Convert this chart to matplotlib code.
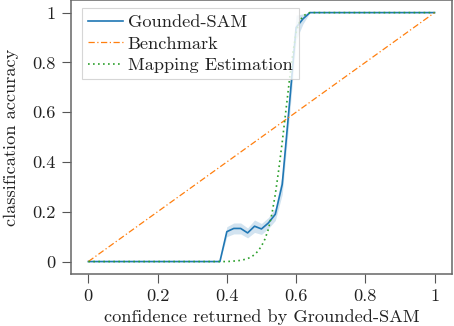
import numpy as np
import matplotlib
matplotlib.use("Agg")
import matplotlib.pyplot as plt

plt.rcParams['font.family'] = ['cmr10', 'DejaVu Serif']
plt.rcParams['mathtext.fontset'] = 'cm'
plt.rcParams['axes.formatter.use_mathtext'] = True

# Grounded-SAM measured accuracy vs confidence
gs_x = [0.00, 0.02, 0.04, 0.06, 0.08, 0.10, 0.12, 0.14, 0.16, 0.18, 0.20,
        0.22, 0.24, 0.26, 0.28, 0.30, 0.32, 0.34, 0.36, 0.38, 0.40, 0.42,
        0.44, 0.46, 0.48, 0.50, 0.52, 0.54, 0.56, 0.58, 0.60, 0.62, 0.64,
        0.66, 0.70, 0.80, 0.90, 1.00]
gs_y = [0, 0, 0, 0, 0, 0, 0, 0, 0, 0, 0,
        0, 0, 0, 0, 0, 0, 0, 0, 0, 0.12, 0.133,
        0.133, 0.115, 0.142, 0.131, 0.155, 0.19, 0.31, 0.62, 0.94, 0.975, 1.0,
        1.0, 1.0, 1.0, 1.0, 1.0]
gs_err = [0, 0, 0, 0, 0, 0, 0, 0, 0, 0, 0,
          0, 0, 0, 0, 0, 0, 0, 0, 0, 0.02, 0.022,
          0.022, 0.02, 0.025, 0.022, 0.022, 0.025, 0.04, 0.05, 0.05, 0.02, 0,
          0, 0, 0, 0, 0]

# Benchmark (identity)
bm_x = [0.0, 1.0]
bm_y = [0.0, 1.0]

# Mapping estimation
me_x = [0.00, 0.40, 0.41, 0.42, 0.43, 0.44, 0.45, 0.46, 0.47, 0.48, 0.49,
        0.50, 0.51, 0.52, 0.53, 0.54, 0.55, 0.56, 0.57, 0.58, 0.59, 0.60,
        0.61, 0.62, 0.63, 0.64, 1.00]
me_y = [0.0, 0.0, 0.001, 0.002, 0.003, 0.005, 0.008, 0.012, 0.018, 0.028, 0.042,
        0.062, 0.09, 0.13, 0.19, 0.27, 0.37, 0.48, 0.60, 0.72, 0.83, 0.92,
        0.965, 0.985, 0.995, 1.0, 1.0]

ticks = [0, 0.2, 0.4, 0.6, 0.8, 1]
tick_labels = ['0', '0.2', '0.4', '0.6', '0.8', '1']

FS = 13.2
fig = plt.figure(figsize=(4.54, 3.26), dpi=100)
ax = fig.add_axes([0.1564, 0.1595, 0.839, 0.840])

gs_x_a = np.array(gs_x)
gs_y_a = np.array(gs_y)
gs_e_a = np.array(gs_err)
ax.fill_between(gs_x_a, np.clip(gs_y_a - gs_e_a, 0, 1), np.clip(gs_y_a + gs_e_a, 0, 1),
                color='#1f77b4', alpha=0.2, linewidth=0)
ax.plot(gs_x, gs_y, color='#1f77b4', lw=1.2, label='Gounded-SAM')
ax.plot(bm_x, bm_y, color='#ff7f0e', lw=0.9, linestyle=(0, (5, 2, 1, 2)), label='Benchmark')
ax.plot(me_x, me_y, color='#2ca02c', lw=1.2, linestyle=(0, (1, 2)), label='Mapping Estimation')

ax.set_xlim(-0.05, 1.05)
ax.set_ylim(-0.05, 1.05)
ax.set_xticks(ticks)
ax.set_xticklabels(tick_labels)
ax.set_yticks(ticks)
ax.set_yticklabels(tick_labels)
ax.tick_params(direction='out', length=6.5, width=0.8, color='#555555', labelsize=FS,
               labelcolor='#222222', top=False, right=False)
ax.tick_params(axis='y', pad=4.5)
ax.tick_params(axis='x', pad=4.0)
for s in ax.spines.values():
    s.set_color('#666666')
    s.set_linewidth(1.1)

ax.set_xlabel('confidence returned by Grounded-SAM', fontsize=FS, labelpad=4, color='#222222')
ax.set_ylabel('classification accuracy', fontsize=FS, labelpad=9.5, color='#222222')

leg = ax.legend(loc='upper left', bbox_to_anchor=(0.029, 0.971), fontsize=FS, frameon=True,
                fancybox=False, handlelength=1.9, handletextpad=0.25, borderpad=0.35,
                labelspacing=0.3, borderaxespad=0.0)
leg.get_frame().set_edgecolor('#cccccc')
leg.get_frame().set_linewidth(0.8)
for t in leg.get_texts():
    t.set_color('#222222')

fig.savefig('out.png', dpi=100)
